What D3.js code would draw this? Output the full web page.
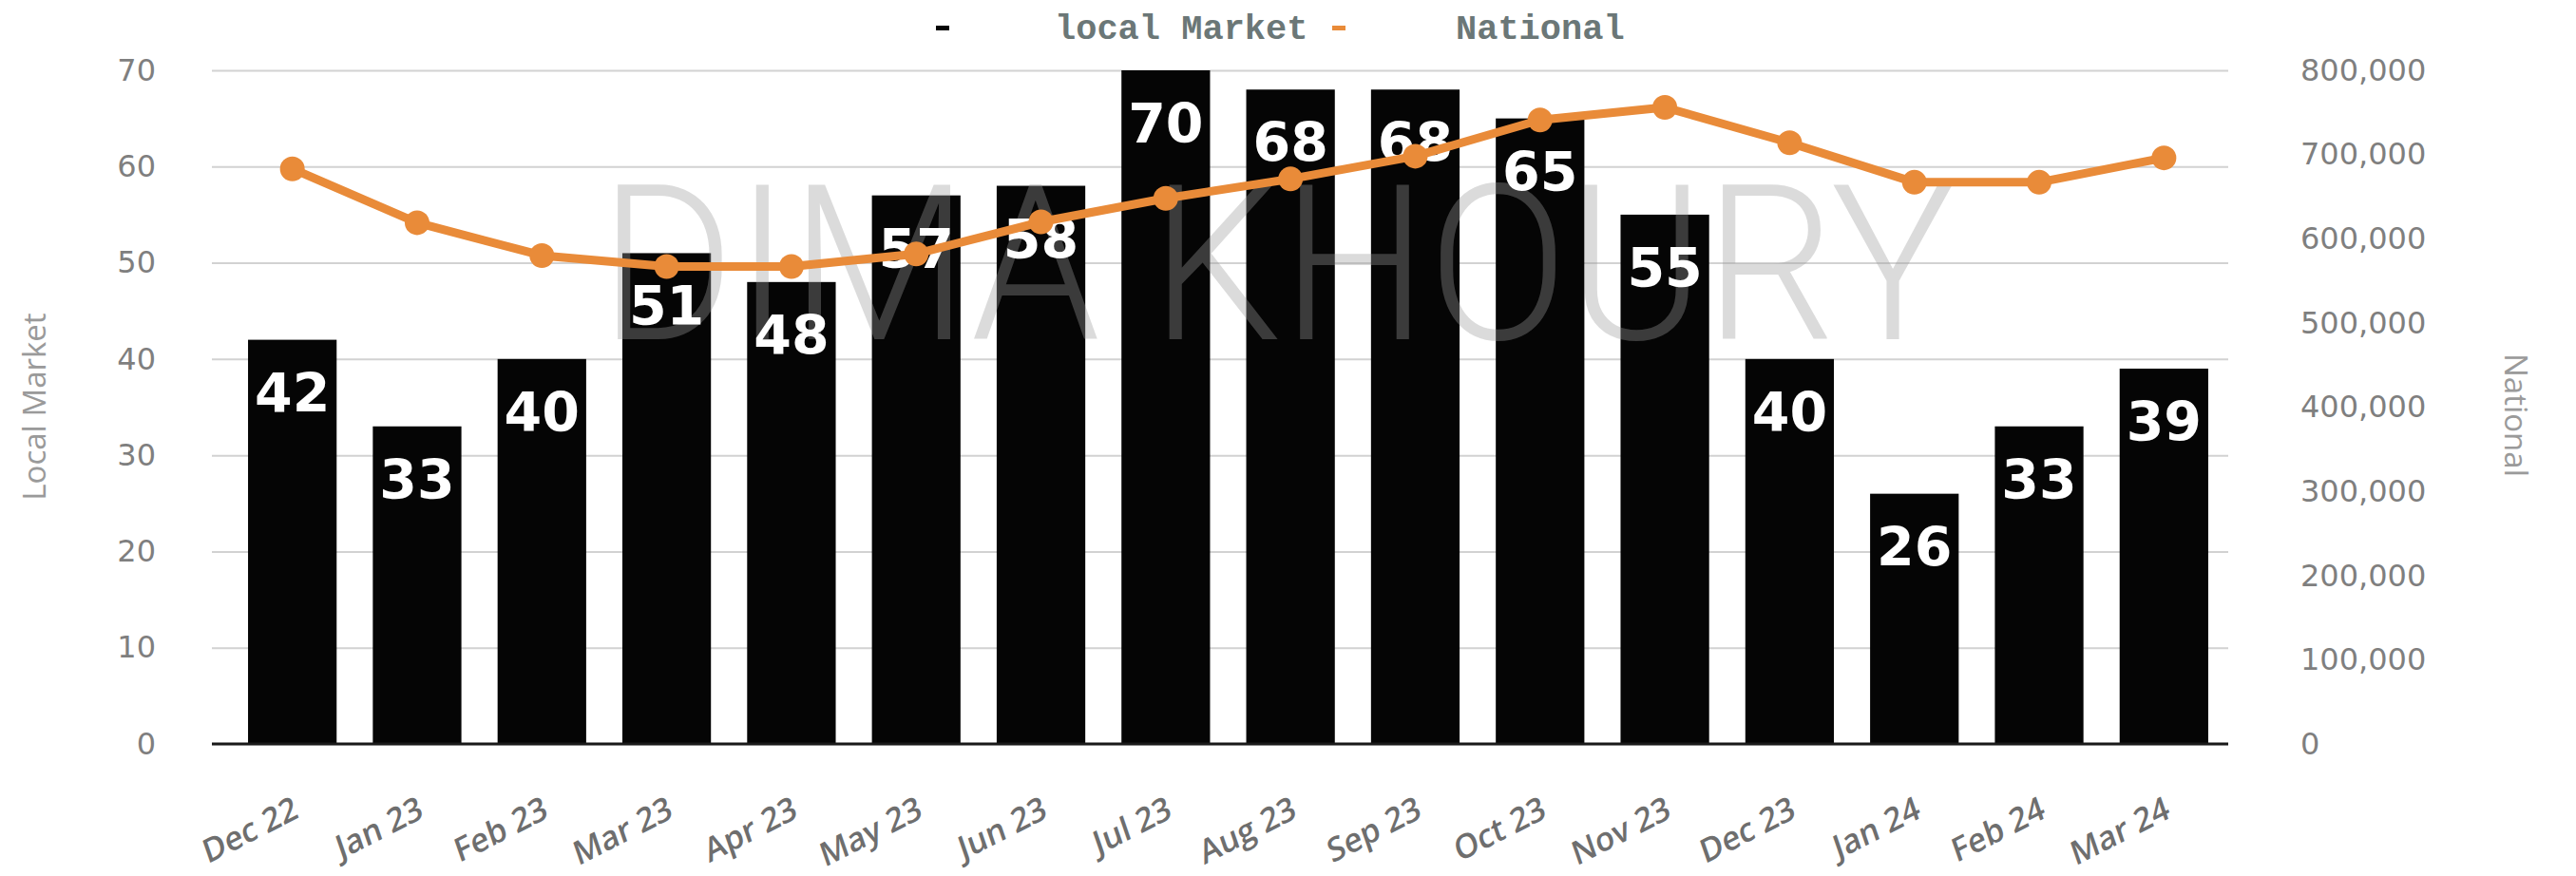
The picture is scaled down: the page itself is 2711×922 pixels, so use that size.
<!DOCTYPE html>
<html>
<head>
<title>Local Market vs National</title>
<meta charset="utf-8" />
<style>
html, body{
	margin: 0px;
	padding: 0px;
	background: #fff;
}
</style>
</head>
<body>

<div id="chart"></div>

<script src="https://d3js.org/d3.v7.min.js"></script>

<script>

// data
var months = ["Dec 22", "Jan 23", "Feb 23", "Mar 23", "Apr 23", "May 23", "Jun 23", "Jul 23",
	"Aug 23", "Sep 23", "Oct 23", "Nov 23", "Dec 23", "Jan 24", "Feb 24", "Mar 24"];
var localMarket = [42, 33, 40, 51, 48, 57, 58, 70, 68, 68, 65, 55, 40, 26, 33, 39];
var national = [683000, 619000, 580000, 567000, 567000, 582000, 620000, 648000,
	671000, 698000, 741000, 756000, 714000, 667000, 667000, 696000];
var leftTicks = [0, 10, 20, 30, 40, 50, 60, 70];
var rightTicks = [0, 100000, 200000, 300000, 400000, 500000, 600000, 700000, 800000];
var seriesNames = ["local Market", "National"];

var width = 2711, height = 922;
var plotLeft = 223, plotRight = 2345, plotTop = 74, plotBottom = 783;
var orange = "#e98b39";

var svg = d3.select("#chart").append("svg")
	.attr("width", width)
	.attr("height", height);

var x = d3.scaleBand()
	.domain(months)
	.range([242, 2343])
	.paddingInner(0.29)
	.paddingOuter(0.145);

var yL = d3.scaleLinear().domain([0, 70]).range([plotBottom, plotTop]);
var yR = d3.scaleLinear().domain([0, 800000]).range([plotBottom, plotTop]);

// gridlines
var grid = svg.append("g")
	.attr("transform", "translate(" + plotLeft + ",0)")
	.call(d3.axisLeft(yL).tickValues(leftTicks).tickSize(-(plotRight - plotLeft)).tickFormat(""));
grid.select(".domain").remove();
grid.selectAll("line").attr("stroke", "#d2d2d2").attr("stroke-width", 2);

// left axis labels
var axL = svg.append("g")
	.attr("transform", "translate(164,0)")
	.call(d3.axisLeft(yL).tickValues(leftTicks).tickSize(0).tickPadding(0));
axL.select(".domain").remove();
axL.selectAll("text")
	.attr("font-family", "'DejaVu Sans', sans-serif")
	.attr("font-size", 32)
	.attr("fill", "#7f7f7f");

// right axis labels
var axR = svg.append("g")
	.attr("transform", "translate(2421,0)")
	.call(d3.axisRight(yR).tickValues(rightTicks).tickFormat(d3.format(",")).tickSize(0).tickPadding(0));
axR.select(".domain").remove();
axR.selectAll("text")
	.attr("font-family", "'DejaVu Sans', sans-serif")
	.attr("font-size", 32)
	.attr("fill", "#7f7f7f");

// bars
svg.append("g").selectAll("rect")
	.data(localMarket)
	.enter()
	.append("rect")
		.attr("x", function(d, i){ return x(months[i]); })
		.attr("y", function(d){ return yL(d); })
		.attr("width", x.bandwidth())
		.attr("height", function(d){ return yL(0) - yL(d); })
		.attr("fill", "#050505");

// baseline
svg.append("line")
	.attr("x1", plotLeft).attr("x2", plotRight)
	.attr("y1", yL(0)).attr("y2", yL(0))
	.attr("stroke", "#1a1a1a")
	.attr("stroke-width", 3);

// x labels
var axX = svg.append("g")
	.attr("transform", "translate(0," + plotBottom + ")")
	.call(d3.axisBottom(x).tickSize(0));
axX.select(".domain").remove();
axX.selectAll("text")
	.attr("x", 0).attr("y", 0).attr("dy", 0)
	.attr("transform", "translate(8,77) rotate(-27) skewX(-8)")
	.style("text-anchor", "end")
	.attr("font-family", "'Open Sans', sans-serif")
	.attr("font-weight", 600)
	.attr("font-size", 34)
	.attr("fill", "#6e6e6e");

// watermark
svg.append("text")
	.attr("x", 1344)
	.attr("y", 357)
	.attr("text-anchor", "middle")
	.attr("font-family", "Roboto, 'Liberation Sans', sans-serif")
	.attr("font-weight", 300)
	.attr("font-size", 228)
	.attr("textLength", 1427)
	.attr("lengthAdjust", "spacingAndGlyphs")
	.attr("fill", "#9c9c9c")
	.attr("fill-opacity", 0.36)
	.text("DIMA KHOURY");

// bar value labels
svg.append("g").selectAll("text")
	.data(localMarket)
	.enter()
	.append("text")
		.attr("x", function(d, i){ return x(months[i]) + x.bandwidth() / 2; })
		.attr("y", function(d){ return yL(d) + 76; })
		.attr("text-anchor", "middle")
		.attr("font-family", "'DejaVu Sans', sans-serif")
		.attr("font-weight", "bold")
		.attr("font-size", 57)
		.attr("fill", "#fff")
		.text(function(d){ return d; });

// national line
var line = d3.line()
	.x(function(d, i){ return x(months[i]) + x.bandwidth() / 2; })
	.y(function(d){ return yR(d); });

svg.append("path")
	.datum(national)
	.attr("d", line)
	.attr("fill", "none")
	.attr("stroke", orange)
	.attr("stroke-width", 9)
	.attr("stroke-linejoin", "round");

svg.append("g").selectAll("circle")
	.data(national)
	.enter()
	.append("circle")
		.attr("cx", function(d, i){ return x(months[i]) + x.bandwidth() / 2; })
		.attr("cy", function(d){ return yR(d); })
		.attr("r", 13)
		.attr("fill", orange);

// axis titles
svg.append("text")
	.attr("transform", "translate(48,428) rotate(-90)")
	.attr("text-anchor", "middle")
	.attr("font-family", "'Open Sans', sans-serif")
	.attr("font-size", 33)
	.attr("fill", "#9a9a9a")
	.text("Local Market");

svg.append("text")
	.attr("transform", "translate(2636,437) rotate(90)")
	.attr("text-anchor", "middle")
	.attr("font-family", "'Open Sans', sans-serif")
	.attr("font-size", 33)
	.attr("fill", "#9a9a9a")
	.text("National");

// legend
var legend = svg.append("g");
legend.append("rect").attr("x", 985).attr("y", 27).attr("width", 14).attr("height", 5).attr("fill", "#050505");
legend.append("rect").attr("x", 1402).attr("y", 27).attr("width", 14).attr("height", 5).attr("fill", orange);
legend.selectAll("text.leg")
	.data(seriesNames)
	.enter()
	.append("text")
		.attr("class", "leg")
		.attr("x", function(d, i){ return i == 0 ? 1110 : 1532; })
		.attr("y", 41)
		.attr("font-family", "'Liberation Mono', monospace")
		.attr("font-weight", "bold")
		.attr("font-size", 37)
		.attr("fill", "#6b7777")
		.text(function(d){ return d; });

</script>
</body>
</html>
